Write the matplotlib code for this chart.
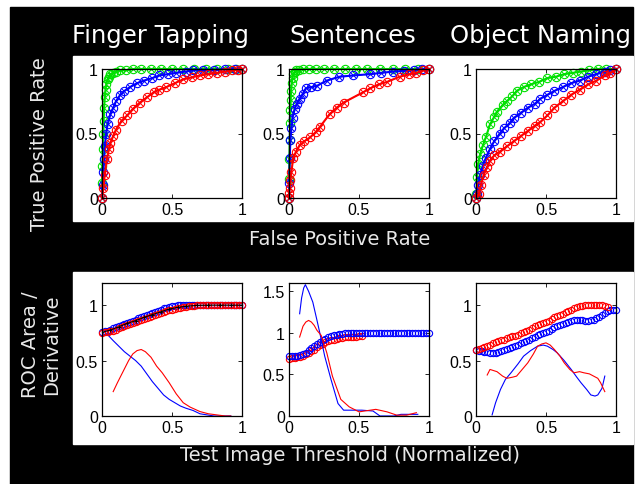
import matplotlib.pyplot as plt
from matplotlib.patches import Rectangle

# ---- top row: ROC curves (false positive rate, true positive rate) ----
ft_green_fpr = [0, 0, 0.003, 0.006, 0.01, 0.012, 0.015, 0.02, 0.025, 0.03, 0.04, 0.05, 0.06, 0.08, 0.1, 0.13, 0.17, 0.22, 0.28, 0.35, 0.42, 0.5, 0.58, 0.66, 0.74, 0.82, 0.9, 0.96, 1.0]
ft_green_tpr = [0, 0.12, 0.25, 0.38, 0.5, 0.6, 0.7, 0.78, 0.84, 0.88, 0.92, 0.94, 0.96, 0.97, 0.98, 0.99, 0.99, 1.0, 1.0, 1.0, 1.0, 1.0, 1.0, 1.0, 1.0, 1.0, 1.0, 1.0, 1.0]
ft_blue_fpr = [0, 0.005, 0.01, 0.015, 0.02, 0.03, 0.04, 0.06, 0.08, 0.1, 0.13, 0.16, 0.2, 0.25, 0.3, 0.36, 0.41, 0.47, 0.53, 0.6, 0.65, 0.72, 0.8, 0.88, 0.95, 1.0]
ft_blue_tpr = [0, 0.1, 0.2, 0.3, 0.4, 0.5, 0.57, 0.65, 0.7, 0.75, 0.8, 0.83, 0.86, 0.89, 0.91, 0.93, 0.95, 0.96, 0.97, 0.98, 0.99, 0.99, 0.99, 1.0, 1.0, 1.0]
ft_red_fpr = [0, 0.01, 0.02, 0.035, 0.05, 0.06, 0.08, 0.1, 0.14, 0.18, 0.22, 0.27, 0.32, 0.37, 0.41, 0.46, 0.52, 0.58, 0.64, 0.7, 0.76, 0.82, 0.88, 0.93, 0.97, 1.0]
ft_red_tpr = [0, 0.08, 0.18, 0.3, 0.38, 0.43, 0.48, 0.53, 0.6, 0.64, 0.69, 0.74, 0.78, 0.82, 0.84, 0.86, 0.89, 0.92, 0.935, 0.95, 0.96, 0.97, 0.98, 0.99, 0.995, 1.0]

se_green_fpr = [0, 0, 0.003, 0.005, 0.008, 0.01, 0.012, 0.015, 0.02, 0.025, 0.03, 0.04, 0.05, 0.07, 0.1, 0.14, 0.19, 0.25, 0.32, 0.4, 0.48, 0.56, 0.65, 0.74, 0.83, 0.92, 1.0]
se_green_tpr = [0, 0.15, 0.3, 0.45, 0.58, 0.68, 0.76, 0.83, 0.89, 0.93, 0.96, 0.98, 0.99, 0.99, 1.0, 1.0, 1.0, 1.0, 1.0, 1.0, 1.0, 1.0, 1.0, 1.0, 1.0, 1.0, 1.0]
se_blue_fpr = [0, 0.002, 0.005, 0.01, 0.017, 0.025, 0.04, 0.055, 0.076, 0.1, 0.12, 0.16, 0.2, 0.27, 0.36, 0.46, 0.58, 0.66, 0.74, 0.82, 0.89, 0.95, 1.0]
se_blue_tpr = [0, 0.12, 0.31, 0.45, 0.54, 0.62, 0.69, 0.73, 0.77, 0.81, 0.85, 0.86, 0.87, 0.91, 0.94, 0.95, 0.96, 0.97, 0.98, 0.985, 0.99, 1.0, 1.0]
se_red_fpr = [0, 0.002, 0.005, 0.01, 0.017, 0.03, 0.05, 0.076, 0.11, 0.15, 0.19, 0.22, 0.29, 0.34, 0.39, 0.53, 0.58, 0.64, 0.7, 0.79, 0.86, 0.91, 0.96, 1.0]
se_red_tpr = [0, 0.04, 0.08, 0.14, 0.2, 0.31, 0.36, 0.41, 0.44, 0.47, 0.51, 0.55, 0.65, 0.7, 0.74, 0.82, 0.85, 0.88, 0.9, 0.94, 0.96, 0.97, 0.99, 1.0]

on_green_fpr = [0, 0.003, 0.007, 0.015, 0.03, 0.05, 0.07, 0.1, 0.13, 0.15, 0.19, 0.22, 0.26, 0.29, 0.34, 0.39, 0.45, 0.51, 0.57, 0.63, 0.69, 0.75, 0.81, 0.87, 0.93, 1.0]
on_green_tpr = [0, 0.03, 0.16, 0.26, 0.34, 0.41, 0.47, 0.57, 0.63, 0.67, 0.72, 0.75, 0.79, 0.83, 0.86, 0.88, 0.9, 0.93, 0.94, 0.96, 0.97, 0.98, 0.99, 1.0, 1.0, 1.0]
on_blue_fpr = [0, 0.007, 0.015, 0.03, 0.05, 0.07, 0.1, 0.13, 0.17, 0.2, 0.24, 0.27, 0.32, 0.37, 0.42, 0.46, 0.51, 0.56, 0.62, 0.68, 0.74, 0.8, 0.86, 0.92, 0.96, 1.0]
on_blue_tpr = [0, 0.03, 0.1, 0.18, 0.25, 0.31, 0.38, 0.44, 0.5, 0.54, 0.58, 0.62, 0.66, 0.7, 0.73, 0.77, 0.8, 0.83, 0.86, 0.89, 0.91, 0.94, 0.96, 0.98, 0.99, 1.0]
on_red_fpr = [0, 0.02, 0.035, 0.055, 0.08, 0.1, 0.13, 0.17, 0.22, 0.27, 0.32, 0.37, 0.42, 0.46, 0.51, 0.56, 0.62, 0.68, 0.74, 0.8, 0.86, 0.92, 0.96, 1.0]
on_red_tpr = [0, 0.03, 0.1, 0.18, 0.24, 0.29, 0.33, 0.36, 0.4, 0.44, 0.48, 0.52, 0.56, 0.59, 0.64, 0.7, 0.75, 0.8, 0.84, 0.88, 0.91, 0.95, 0.97, 1.0]

# ---- bottom row: ROC area (markers) and derivative (thin lines) vs threshold ----
threshold = [round(0.02 * i, 2) for i in range(51)]   # test image threshold grid

ft_area_blue = [0.76, 0.765, 0.77, 0.78, 0.79, 0.8, 0.81, 0.82, 0.83, 0.84, 0.85, 0.86, 0.87, 0.88, 0.89, 0.9, 0.91, 0.92, 0.93, 0.94, 0.95, 0.96, 0.97, 0.975, 0.98, 0.99, 0.995] + [1.0] * 24
ft_area_red = [0.75, 0.755, 0.76, 0.765, 0.77, 0.78, 0.79, 0.8, 0.81, 0.82, 0.83, 0.84, 0.85, 0.86, 0.87, 0.875, 0.88, 0.89, 0.9, 0.91, 0.92, 0.93, 0.94, 0.95, 0.955, 0.96, 0.965, 0.97, 0.975, 0.98, 0.985, 0.99, 0.99, 0.995] + [1.0] * 17
ft_mean_x = [0, 0.06, 0.12, 0.18, 0.24, 0.3, 0.36, 0.42, 0.48, 0.54, 0.6, 0.68, 0.76, 0.84, 0.92, 1.0]
ft_area_mean = [0.755, 0.775, 0.805, 0.835, 0.86, 0.89, 0.915, 0.94, 0.965, 0.98, 0.99, 0.998, 1.0, 1.0, 1.0, 1.0]
ft_der_blue_x = [0.05, 0.08, 0.12, 0.16, 0.2, 0.24, 0.28, 0.32, 0.36, 0.4, 0.44, 0.48, 0.52, 0.56, 0.6, 0.65, 0.7, 0.75, 0.8, 0.86, 0.92]
ft_der_blue = [0.72, 0.68, 0.63, 0.58, 0.54, 0.5, 0.45, 0.38, 0.31, 0.25, 0.19, 0.15, 0.12, 0.09, 0.07, 0.05, 0.02, 0.01, 0.0, 0.0, 0.0]
ft_der_red_x = [0.08, 0.11, 0.15, 0.19, 0.22, 0.25, 0.28, 0.31, 0.35, 0.39, 0.43, 0.48, 0.53, 0.58, 0.63, 0.7, 0.76, 0.82, 0.88, 0.92]
ft_der_red = [0.22, 0.3, 0.4, 0.5, 0.56, 0.59, 0.6, 0.58, 0.53, 0.45, 0.39, 0.3, 0.2, 0.12, 0.08, 0.04, 0.02, 0.01, 0.0, 0.0]

se_area_blue = [0.72, 0.72, 0.72, 0.725, 0.73, 0.74, 0.76, 0.79, 0.82, 0.84, 0.87, 0.89, 0.91, 0.93, 0.95, 0.96, 0.97, 0.98, 0.985, 0.99, 0.995] + [1.0] * 30
se_area_red = [0.69, 0.695, 0.7, 0.705, 0.71, 0.72, 0.74, 0.76, 0.78, 0.8, 0.83, 0.85, 0.87, 0.89, 0.9, 0.91, 0.92, 0.93, 0.935, 0.94, 0.945, 0.95, 0.95, 0.955, 0.955, 0.96, 0.96]
se_der_blue_x = [0.076, 0.09, 0.105, 0.117, 0.14, 0.17, 0.2, 0.22, 0.255, 0.3, 0.35, 0.39, 0.45, 0.52, 0.6, 0.65, 0.7, 0.75, 0.8, 0.86, 0.92]
se_der_blue = [1.23, 1.42, 1.54, 1.58, 1.5, 1.37, 1.15, 1.0, 0.72, 0.44, 0.15, 0.07, 0.07, 0.07, 0.06, 0.0, 0.0, 0.0, 0.02, 0.02, 0.02]
se_der_red_x = [0.076, 0.1, 0.12, 0.14, 0.16, 0.18, 0.2, 0.23, 0.27, 0.31, 0.37, 0.43, 0.5, 0.58, 0.62, 0.7, 0.77, 0.84, 0.91]
se_der_red = [0.95, 1.08, 1.13, 1.15, 1.13, 1.09, 1.03, 0.97, 0.76, 0.48, 0.2, 0.11, 0.05, 0.07, 0.08, 0.05, 0.01, 0.01, 0.04]

on_area_red = [0.6, 0.605, 0.61, 0.62, 0.63, 0.64, 0.655, 0.665, 0.675, 0.685, 0.69, 0.7, 0.71, 0.72, 0.725, 0.735, 0.75, 0.76, 0.77, 0.78, 0.795, 0.81, 0.82, 0.83, 0.84, 0.85, 0.86, 0.875, 0.89, 0.9, 0.91, 0.92, 0.935, 0.945, 0.955, 0.97, 0.98, 0.99, 0.99, 1.0, 1.0, 1.0, 1.0, 1.0, 1.0, 1.0, 0.99, 0.98]
on_area_blue = [0.6, 0.59, 0.585, 0.58, 0.575, 0.57, 0.57, 0.57, 0.575, 0.585, 0.595, 0.605, 0.615, 0.625, 0.635, 0.645, 0.66, 0.67, 0.68, 0.69, 0.705, 0.715, 0.73, 0.74, 0.75, 0.76, 0.77, 0.785, 0.8, 0.81, 0.82, 0.83, 0.84, 0.85, 0.86, 0.865, 0.87, 0.87, 0.865, 0.86, 0.86, 0.865, 0.87, 0.88, 0.89, 0.91, 0.93, 0.95, 0.96, 0.96, 0.96]
on_der_blue_x = [0.115, 0.14, 0.175, 0.21, 0.25, 0.3, 0.34, 0.39, 0.44, 0.48, 0.51, 0.55, 0.58, 0.63, 0.68, 0.72, 0.75, 0.79, 0.82, 0.85, 0.87, 0.9, 0.92]
on_der_blue = [0.01, 0.12, 0.24, 0.33, 0.39, 0.47, 0.54, 0.59, 0.63, 0.64, 0.63, 0.6, 0.57, 0.5, 0.42, 0.35, 0.3, 0.24, 0.19, 0.18, 0.19, 0.25, 0.36]
on_der_red_x = [0.08, 0.1, 0.15, 0.19, 0.22, 0.26, 0.29, 0.33, 0.37, 0.41, 0.44, 0.47, 0.5, 0.53, 0.56, 0.6, 0.63, 0.67, 0.7, 0.74, 0.77, 0.81, 0.84, 0.87, 0.89, 0.92]
on_der_red = [0.37, 0.42, 0.4, 0.36, 0.34, 0.35, 0.36, 0.42, 0.48, 0.56, 0.63, 0.65, 0.66, 0.64, 0.6, 0.54, 0.48, 0.42, 0.39, 0.4, 0.39, 0.38, 0.36, 0.34, 0.3, 0.22]

titles = ['Finger Tapping', 'Sentences', 'Object Naming']
title_x = [161, 353, 541]

W, H = 642, 485
fig = plt.figure(figsize=(W / 100, H / 100), dpi=100)
fig.patch.set_facecolor('white')


def px_rect(x0, y0, x1, y1, color):
    # rectangle in pixel coords (origin top-left)
    fig.patches.append(Rectangle((x0 / W, 1 - y1 / H), (x1 - x0) / W, (y1 - y0) / H,
                                 transform=fig.transFigure, color=color, zorder=-10))


px_rect(10, 8, 633, H, 'black')
px_rect(73, 57, 633, 222, 'white')
px_rect(73, 273, 633, 445, 'white')

G, B, R = '#00e000', '#0000ff', '#ff0000'
tick_font = {'family': 'Liberation Sans', 'size': 11.5}


def style(ax, ylim, yticks, ylabels):
    ax.set_xlim(0, 1)
    ax.set_ylim(*ylim)
    ax.set_xticks([0, 0.5, 1])
    ax.set_xticklabels(['0', '0.5', '1'], fontdict=tick_font)
    ax.set_yticks(yticks)
    ax.set_yticklabels(ylabels, fontdict=tick_font)
    ax.tick_params(direction='in', length=3, width=0.6, top=True, right=True, pad=3)
    for s in ax.spines.values():
        s.set_linewidth(0.9)
    ax.set_facecolor('white')


left = [102 / W, 289 / W, 476 / W]
aw = 140 / W
top_axes = [fig.add_axes([l, 1 - 199 / H, aw, 129 / H]) for l in left]
bot_axes = [fig.add_axes([l, 1 - 417 / H, aw, 133 / H]) for l in left]

roc = [
    [(ft_green_fpr, ft_green_tpr, G), (ft_blue_fpr, ft_blue_tpr, B), (ft_red_fpr, ft_red_tpr, R)],
    [(se_green_fpr, se_green_tpr, G), (se_blue_fpr, se_blue_tpr, B), (se_red_fpr, se_red_tpr, R)],
    [(on_green_fpr, on_green_tpr, G), (on_blue_fpr, on_blue_tpr, B), (on_red_fpr, on_red_tpr, R)],
]
for ax, curves in zip(top_axes, roc):
    for x, y, c in curves:
        ax.plot(x, y, '-.', color=c, lw=0.8, marker='o', ms=6, mfc='none', mew=0.8, clip_on=False)
        ax.plot(x, y, 'none', color=c, marker='x', ms=4, mew=0.7, clip_on=False)
    style(ax, (0, 1), [0, 0.5, 1], ['0', '0.5', '1'])

mk = dict(marker='o', ls='none', ms=4.5, mfc='none', mew=0.8, clip_on=False)

# Finger tapping
ax = bot_axes[0]
ax.plot(threshold, ft_area_blue, color=B, **mk)
ax.plot(threshold, ft_area_red, color=R, **mk)
ax.plot(ft_mean_x, ft_area_mean, '-', color='black', lw=0.8, marker='+', ms=3, mew=0.6)
ax.plot(ft_der_blue_x, ft_der_blue, '-', color=B, lw=0.8)
ax.plot(ft_der_red_x, ft_der_red, '-', color=R, lw=0.8)
style(ax, (0, 1.2), [0, 0.5, 1], ['0', '0.5', '1'])

# Sentences
ax = bot_axes[1]
ax.plot(threshold[:len(se_area_red)], se_area_red, color=R, **mk)
ax.plot(threshold, se_area_blue, color=B, **mk)
ax.plot(se_der_blue_x, se_der_blue, '-', color=B, lw=0.8)
ax.plot(se_der_red_x, se_der_red, '-', color=R, lw=0.8)
style(ax, (0, 1.6), [0, 0.5, 1, 1.5], ['0', '0.5', '1', '1.5'])

# Object naming
ax = bot_axes[2]
ax.plot(threshold, on_area_blue, color=B, **mk)
ax.plot(threshold[:len(on_area_red)], on_area_red, color=R, **mk)
ax.plot(on_der_blue_x, on_der_blue, '-', color=B, lw=0.8)
ax.plot(on_der_red_x, on_der_red, '-', color=R, lw=0.8)
style(ax, (0, 1.2), [0, 0.5, 1], ['0', '0.5', '1'])

# labels on the black background
for t, x in zip(titles, title_x):
    fig.text(x / W, 1 - 36 / H, t, color='white', fontsize=17.5, ha='center', va='center')
fig.text(40 / W, 1 - 144 / H, 'True Positive Rate', color='#e8e8e8', fontsize=14,
         rotation=90, ha='center', va='center')
fig.text(41 / W, 1 - 345 / H, 'ROC Area /\nDerivative', color='#e8e8e8', fontsize=14,
         rotation=90, ha='center', va='center', linespacing=1.15)
fig.text(340 / W, 1 - 240 / H, 'False Positive Rate', color='#e8e8e8', fontsize=14,
         ha='center', va='center')
fig.text(350 / W, 1 - 456 / H, 'Test Image Threshold (Normalized)', color='#e8e8e8',
         fontsize=14, ha='center', va='center')

fig.savefig('out.png', dpi=100, facecolor=fig.get_facecolor())
